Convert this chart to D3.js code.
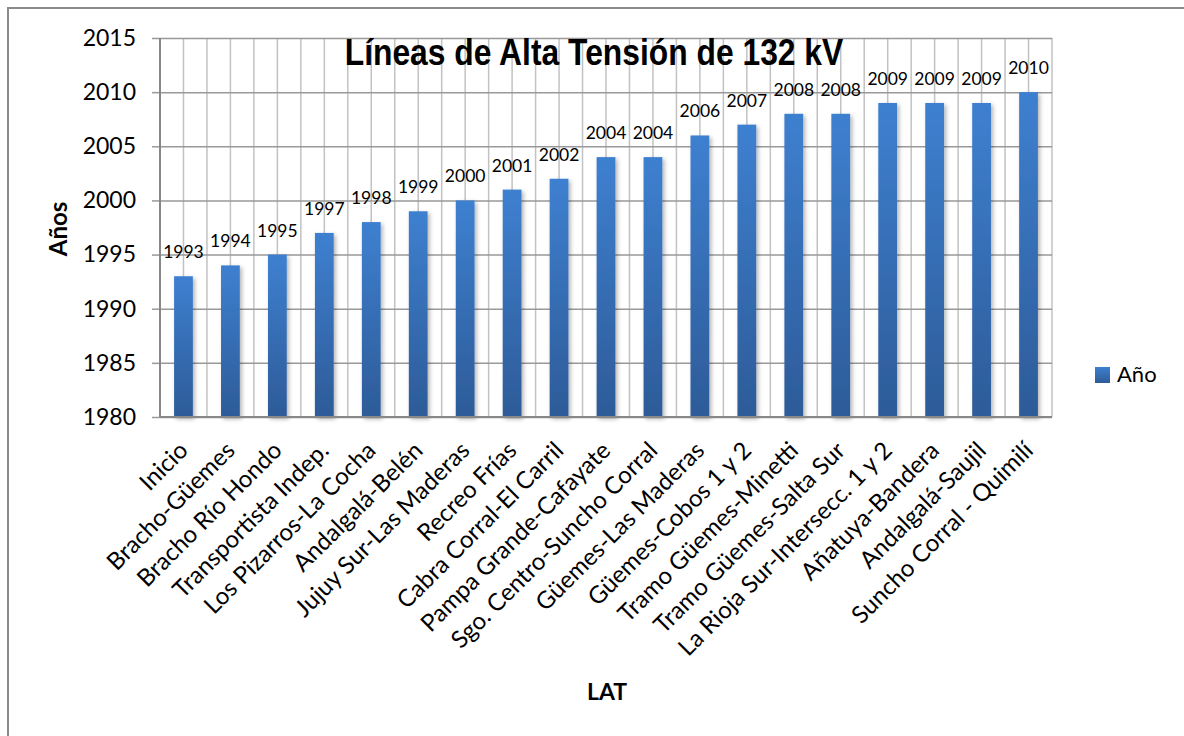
<!DOCTYPE html>
<html>
<head>
<meta charset="utf-8">
<script src="https://cdn.jsdelivr.net/npm/d3@7/dist/d3.min.js"></script>
<style>
  html, body { margin: 0; padding: 0; background: #fff; }
  svg { display: block; }
</style>
</head>
<body>
<svg id="chart" width="1184" height="736"></svg>
<script>
// Líneas de Alta Tensión de 132 kV: año de habilitación por línea
const categories = [
  "Inicio", "Bracho-Güemes", "Bracho Río Hondo", "Transportista Indep.",
  "Los Pizarros-La Cocha", "Andalgalá-Belén", "Jujuy Sur-Las Maderas",
  "Recreo Frías", "Cabra Corral-El Carril", "Pampa Grande-Cafayate",
  "Sgo. Centro-Suncho Corral", "Güemes-Las Maderas", "Güemes-Cobos 1 y 2",
  "Tramo Güemes-Minetti", "Tramo Güemes-Salta Sur", "La Rioja Sur-Intersecc. 1 y 2",
  "Añatuya-Bandera", "Andalgalá-Saujil", "Suncho Corral - Quimilí"
];
const years = [1993, 1994, 1995, 1997, 1998, 1999, 2000, 2001, 2002, 2004,
               2004, 2006, 2007, 2008, 2008, 2009, 2009, 2009, 2010];
const yTicks = [1980, 1985, 1990, 1995, 2000, 2005, 2010, 2015];
const seriesName = "Año";

const svg = d3.select("#chart");
const W = 1184, H = 736;
const plot = { left: 160, right: 1052, top: 38, bottom: 417 };

// outer chart frame
svg.append("rect")
  .attr("x", 8).attr("y", 8).attr("width", W + 20).attr("height", H + 20)
  .attr("fill", "#fff").attr("stroke", "#8a8a8a").attr("stroke-width", 2);

const defs = svg.append("defs");
const grad = defs.append("linearGradient")
  .attr("id", "barGrad").attr("x1", 0).attr("y1", 0).attr("x2", 0).attr("y2", 1);
grad.append("stop").attr("offset", "0%").attr("stop-color", "#3e80d0");
grad.append("stop").attr("offset", "100%").attr("stop-color", "#2d5b98");

const shadow = defs.append("filter").attr("id", "barShadow")
  .attr("x", "-50%").attr("y", "-10%").attr("width", "200%").attr("height", "130%");
shadow.append("feDropShadow")
  .attr("dx", 2).attr("dy", 2).attr("stdDeviation", 2)
  .attr("flood-color", "#000").attr("flood-opacity", 0.3);

const x = d3.scaleBand()
  .domain(categories)
  .range([plot.left, plot.right])
  .paddingInner(0.6).paddingOuter(0.3);
const step = (plot.right - plot.left) / categories.length;

const y = d3.scaleLinear().domain([1980, 2015]).range([plot.bottom, plot.top]);

// vertical gridlines at every half category
const halfSteps = d3.range(0, categories.length * 2 + 1);
svg.append("g").selectAll("line").data(halfSteps).join("line")
  .attr("x1", d => plot.left + d * step / 2).attr("x2", d => plot.left + d * step / 2)
  .attr("y1", plot.top).attr("y2", plot.bottom)
  .attr("stroke", "#c2c2c2").attr("stroke-width", 1.5);

// horizontal gridlines + y axis
const yAxis = d3.axisLeft(y).tickValues(yTicks).tickFormat(d3.format("d"))
  .tickSize(8).tickPadding(16);
const gy = svg.append("g").attr("transform", `translate(${plot.left},0)`).call(yAxis);
gy.select(".domain").remove();
gy.selectAll(".tick line").attr("stroke", "#999").attr("stroke-width", 1.5);
gy.selectAll(".tick text")
  .attr("font-family", "Lato, sans-serif").attr("font-size", 23).attr("fill", "#000");
gy.selectAll(".tick").append("line")
  .attr("x1", 0).attr("x2", plot.right - plot.left)
  .attr("stroke", "#999").attr("stroke-width", 1.5);

// left axis line
svg.append("line")
  .attr("x1", plot.left).attr("x2", plot.left)
  .attr("y1", plot.top).attr("y2", plot.bottom)
  .attr("stroke", "#888").attr("stroke-width", 2);

// title (condensed bold)
svg.append("text")
  .attr("transform", "translate(594,65) scale(0.86,1)")
  .attr("text-anchor", "middle")
  .attr("font-family", "'Liberation Sans', Arial, sans-serif")
  .attr("font-weight", "bold").attr("font-size", 37).attr("fill", "#000")
  .text("Líneas de Alta Tensión de 132 kV");

// bars
svg.append("g").selectAll("rect").data(years).join("rect")
  .attr("x", (d, i) => x(categories[i]))
  .attr("width", x.bandwidth())
  .attr("y", d => y(d))
  .attr("height", d => y(1980) - y(d))
  .attr("fill", "url(#barGrad)")
  .attr("filter", "url(#barShadow)");

// bottom axis line
const xAxis = d3.axisBottom(x).tickSize(0).tickFormat("");
const gx = svg.append("g").attr("transform", `translate(0,${plot.bottom})`).call(xAxis);
gx.select(".domain").attr("stroke", "#888").attr("stroke-width", 2)
  .attr("d", `M${plot.left},0H${plot.right}`);

// value labels
svg.append("g").selectAll("text").data(years).join("text")
  .attr("x", (d, i) => x(categories[i]) + x.bandwidth() / 2)
  .attr("y", d => y(d) - 18)
  .attr("text-anchor", "middle")
  .attr("font-family", "Lato, sans-serif").attr("font-size", 17.5).attr("fill", "#000")
  .text(d => d);

// rotated category labels
svg.append("g").selectAll("text").data(categories).join("text")
  .attr("transform", d => `translate(${x(d) + x.bandwidth() / 2},${plot.bottom + 29}) rotate(-45)`)
  .attr("text-anchor", "end")
  .attr("dy", "0.35em")
  .attr("font-family", "Lato, sans-serif").attr("font-size", 24).attr("fill", "#000")
  .text(d => d);

// axis titles
svg.append("text")
  .attr("transform", "translate(67,229) rotate(-90)")
  .attr("text-anchor", "middle")
  .attr("font-family", "Lato, sans-serif").attr("font-weight", "bold")
  .attr("font-size", 24).attr("fill", "#000")
  .text("Años");
svg.append("text")
  .attr("x", 607).attr("y", 700)
  .attr("text-anchor", "middle")
  .attr("font-family", "Lato, sans-serif").attr("font-weight", "bold")
  .attr("font-size", 23).attr("fill", "#000")
  .text("LAT");

// legend
const legend = svg.append("g").attr("transform", "translate(1095,367)");
legend.append("rect").attr("width", 15).attr("height", 16).attr("fill", "url(#barGrad)");
legend.append("text").attr("x", 22).attr("y", 15)
  .attr("font-family", "Lato, sans-serif").attr("font-size", 22).attr("fill", "#000")
  .text(seriesName);
</script>
</body>
</html>
